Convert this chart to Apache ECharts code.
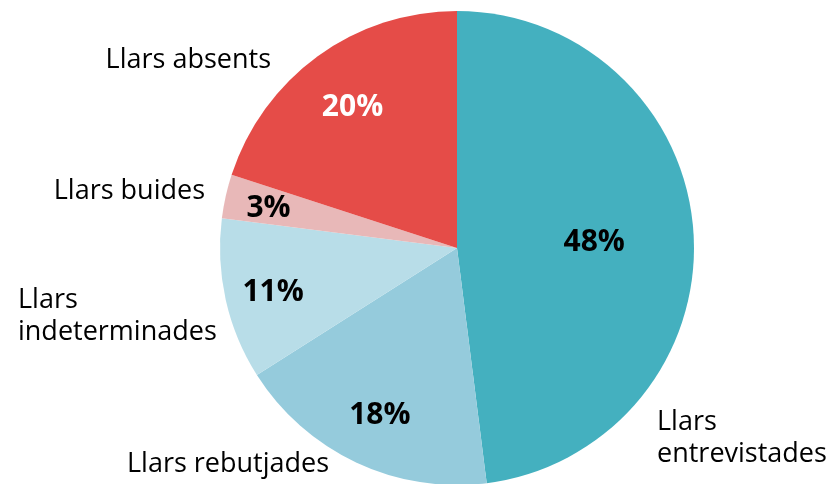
<!DOCTYPE html>
<html>
<head>
<meta charset="utf-8">
<script src="https://cdn.jsdelivr.net/npm/echarts@6/dist/echarts.min.js"></script>
<style>
  html, body { margin: 0; padding: 0; background: #fff; }
  #llars { width: 835px; height: 484px; }
</style>
</head>
<body>
<div id="llars"></div>
<script>
// dades del gràfic
const categories = ['Llars entrevistades', 'Llars rebutjades', 'Llars indeterminades', 'Llars buides', 'Llars absents']
const labelTexts = ['Llars\nentrevistades', 'Llars rebutjades', 'Llars\nindeterminades', 'Llars buides', 'Llars absents']
const values = [48, 18, 11, 3, 20]

const colors = ['#44b0bf', '#95cbdc', '#b8dde8', '#e8b8b8', '#e54c48']
const pctColors = ['#000', '#000', '#000', '#000', '#fff']

const cx = 457, cy = 248, R = 237
// distància relativa de cada percentatge al centre
const pctRadius = [0.58, 0.765, 0.795, 0.815, 0.75]
// posició de les etiquetes exteriors
const outside = [
  { x: 657, y: 438, align: 'left' },
  { x: 127, y: 464, align: 'left' },
  { x: 18, y: 316, align: 'left' },
  { x: 205, y: 191, align: 'right' },
  { x: 271, y: 60, align: 'right' }
]

const total = values.reduce((a, b) => a + b, 0)
const midAngles = []
let acc = 0
values.forEach(v => {
  midAngles.push((acc + v / 2) / total * Math.PI * 2)
  acc += v
})

const chart = echarts.init(document.getElementById('llars'), null, { renderer: 'canvas' })

const option = {
  animation: false,
  color: colors,
  textStyle: { fontFamily: '"Open Sans", "Noto Sans", sans-serif' },
  series: [
    {
      type: 'pie',
      center: [cx, cy],
      radius: [0, R],
      startAngle: 90,
      clockwise: true,
      silent: true,
      data: values.map((v, i) => ({
        name: categories[i],
        value: v,
        label: { color: pctColors[i] }
      })),
      label: {
        show: true,
        position: 'inside',
        formatter: '{c}%',
        fontSize: 30,
        fontWeight: 'bold',
        fontFamily: '"Open Sans", "Noto Sans", sans-serif'
      },
      labelLine: { show: false },
      labelLayout: function (p) {
        const a = midAngles[p.dataIndex]
        const r = R * pctRadius[p.dataIndex]
        return {
          x: cx + r * Math.sin(a),
          y: cy - r * Math.cos(a) + 3,
          align: 'center',
          verticalAlign: 'middle'
        }
      }
    },
    {
      type: 'pie',
      center: [cx, cy],
      radius: [0, R],
      startAngle: 90,
      silent: true,
      itemStyle: { color: 'rgba(0,0,0,0)' },
      data: values.map((v, i) => ({ name: labelTexts[i], value: v })),
      label: {
        show: true,
        position: 'outside',
        formatter: '{b}',
        fontSize: 27,
        lineHeight: 32,
        color: '#000',
        overflow: 'none',
        fontFamily: '"Open Sans", "Noto Sans", sans-serif'
      },
      labelLine: { show: false },
      labelLayout: function (p) {
        const o = outside[p.dataIndex]
        return { x: o.x, y: o.y, align: o.align, verticalAlign: 'middle', width: 300 }
      }
    }
  ]
}

chart.setOption(option)
</script>
</body>
</html>
